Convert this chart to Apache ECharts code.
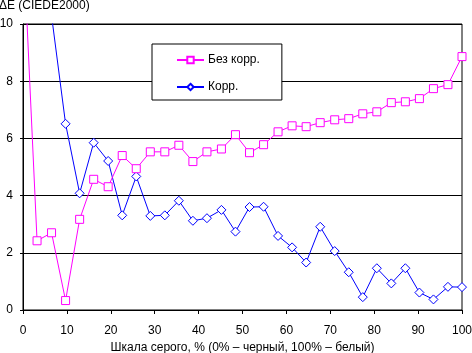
<!DOCTYPE html>
<html>
<head>
<meta charset="utf-8">
<script src="https://cdn.jsdelivr.net/npm/echarts@6/dist/echarts.min.js"></script>
<style>
  html, body { margin: 0; padding: 0; background: #fff; }
  #main { width: 472px; height: 353px; }
</style>
</head>
<body>
<div id="main"></div>
<script>
// шкала серого, 32 шага от 0 до 100 %
var xValues = [0, 3.2, 6.5, 9.7, 12.9, 16.1, 19.4, 22.6, 25.8, 29, 32.3, 35.5, 38.7, 41.9, 45.2, 48.4,
               51.6, 54.8, 58.1, 61.3, 64.5, 67.7, 71, 74.2, 77.4, 80.6, 83.9, 87.1, 90.3, 93.5, 96.8, 100];

var bezKorr = [13.1, 2.42, 2.7, 0.33, 3.17, 4.57, 4.31, 5.4, 4.94, 5.53, 5.53, 5.76, 5.19, 5.53, 5.63, 6.13,
               5.5, 5.78, 6.23, 6.44, 6.41, 6.55, 6.65, 6.69, 6.86, 6.93, 7.25, 7.28, 7.39, 7.74, 7.88, 8.86];

var korr = [30, 18, 10.3, 6.51, 4.08, 5.85, 5.21, 3.31, 4.67, 3.29, 3.31, 3.82, 3.12, 3.21, 3.5, 2.74,
            3.6, 3.61, 2.59, 2.19, 1.66, 2.91, 2.06, 1.32, 0.45, 1.46, 0.93, 1.46, 0.61, 0.37, 0.81, 0.8];

var seriesNames = ['Без корр.', 'Корр.'];

function pairs(ys) {
    return xValues.map(function (x, i) { return [x, ys[i]]; });
}

var myChart = echarts.init(document.getElementById('main'));

var font = 'Liberation Sans, Arial, sans-serif';

var option = {
    animation: false,
    backgroundColor: '#fff',
    textStyle: { fontFamily: font },
    title: {
        text: 'ΔE (CIEDE2000)',
        left: -1,
        top: 0,
        padding: 0,
        textStyle: { fontFamily: font, fontSize: 12, fontWeight: 'normal', color: '#000' }
    },
    grid: {
        left: 23, right: 10, top: 24, bottom: 43,
        containLabel: false,
        outerBoundsMode: 'none',
        show: true,
        borderColor: '#000',
        borderWidth: 1
    },
    legend: {
        orient: 'vertical',
        left: 152,
        top: 44,
        padding: [10, 22, 7, 24],
        itemGap: 15,
        itemWidth: 27,
        itemHeight: 8,
        backgroundColor: '#fff',
        borderColor: '#000',
        borderWidth: 1,
        borderRadius: 0,
        textStyle: { fontFamily: font, fontSize: 12, color: '#000', padding: [0, 0, 0, -1] },
        data: seriesNames
    },
    xAxis: {
        type: 'value',
        min: 0, max: 100, interval: 10,
        name: 'Шкала серого, % (0% – черный, 100% – белый)',
        nameLocation: 'middle',
        nameGap: 31,
        nameTextStyle: { fontFamily: font, fontSize: 12, color: '#000' },
        axisLine: { lineStyle: { color: '#000', width: 1 } },
        axisTick: { show: true, length: 4, lineStyle: { color: '#000' } },
        axisLabel: { color: '#000', fontSize: 12, fontFamily: font, margin: 15 },
        splitLine: { show: false }
    },
    yAxis: {
        type: 'value',
        min: 0, max: 10, interval: 2,
        axisLine: { show: true, lineStyle: { color: '#000', width: 1 } },
        axisTick: { show: true, length: 3, lineStyle: { color: '#000' } },
        axisLabel: { color: '#000', fontSize: 12, fontFamily: font, margin: 10 },
        splitLine: { show: true, lineStyle: { color: '#000', width: 1 } }
    },
    series: [
        {
            name: seriesNames[0],
            type: 'line',
            data: pairs(bezKorr),
            clip: true,
            symbol: 'rect',
            symbolSize: 8,
            showAllSymbol: true,
            color: '#ff00ff',
            lineStyle: { color: '#ff00ff', width: 1 },
            itemStyle: { color: '#fff', borderColor: '#ff00ff', borderWidth: 1 },
            z: 3
        },
        {
            name: seriesNames[1],
            type: 'line',
            data: pairs(korr),
            clip: true,
            symbol: 'diamond',
            symbolSize: 9,
            showAllSymbol: true,
            color: '#0000ff',
            lineStyle: { color: '#0000ff', width: 1 },
            itemStyle: { color: '#fff', borderColor: '#0000ff', borderWidth: 1 },
            z: 2
        }
    ]
};

myChart.setOption(option);
</script>
</body>
</html>
